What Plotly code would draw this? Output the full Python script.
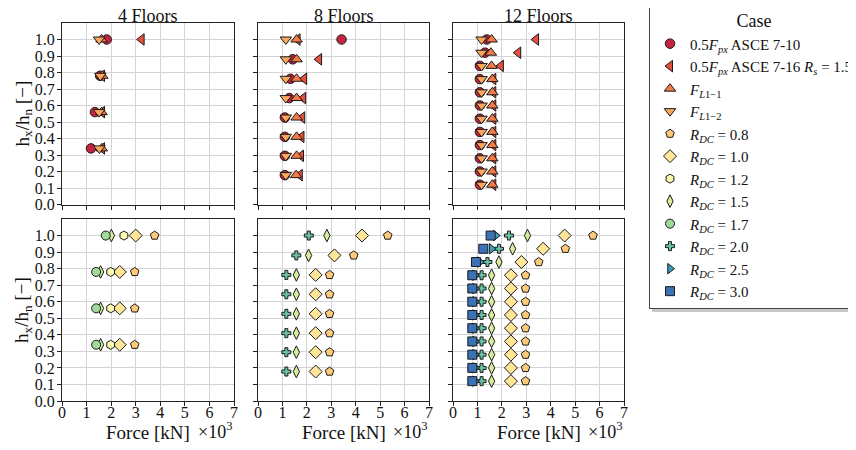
import plotly.graph_objects as go
from plotly.subplots import make_subplots

# ---------------- data ----------------
panel_titles = ["4 Floors", "8 Floors", "12 Floors"]
h_4 = [0.34, 0.56, 0.78, 1.0]
h_8 = [0.178, 0.295, 0.41, 0.527, 0.645, 0.762, 0.88, 1.0]
h_12 = [0.12, 0.20, 0.28, 0.36, 0.44, 0.52, 0.60, 0.68, 0.76, 0.84, 0.92, 1.0]

# Force [kN] x10^3 — top row (code-based cases)
asce710_4 = [1.18, 1.34, 1.55, 1.82]
asce710_8 = [1.10, 1.10, 1.10, 1.10, 1.28, 1.33, 1.42, 3.42]
asce710_12 = [1.10, 1.10, 1.10, 1.10, 1.10, 1.10, 1.10, 1.10, 1.10, 1.10, 1.31, 1.38]

asce716_4 = [1.63, 1.63, 1.63, 3.24]
asce716_8 = [1.71, 1.76, 1.78, 1.81, 1.85, 1.89, 2.50, 1.62]
asce716_12 = [1.65, 1.65, 1.65, 1.65, 1.65, 1.65, 1.65, 1.65, 1.65, 1.96, 2.67, 3.40]

fl11_4 = [1.62, 1.61, 1.64, 1.61]
fl11_8 = [1.56, 1.58, 1.58, 1.58, 1.58, 1.58, 1.58, 1.58]
fl11_12 = [1.61, 1.61, 1.61, 1.61, 1.61, 1.61, 1.61, 1.61, 1.61, 1.58, 1.55, 1.58]

fl12_4 = [1.52, 1.51, 1.56, 1.51]
fl12_8 = [1.14, 1.14, 1.14, 1.14, 1.14, 1.14, 1.14, 1.14]
fl12_12 = [1.17, 1.17, 1.17, 1.17, 1.17, 1.17, 1.17, 1.17, 1.17, 1.17, 1.17, 1.17]

# bottom row (R_DC cases)
rdc08_4 = [2.96, 2.96, 2.96, 3.77]
rdc08_8 = [2.93, 2.93, 2.93, 2.93, 2.93, 2.93, 3.92, 5.31]
rdc08_12 = [2.97, 2.97, 2.97, 2.97, 2.97, 2.97, 2.97, 2.97, 2.97, 3.51, 4.60, 5.73]

rdc10_4 = [2.35, 2.35, 2.35, 3.00]
rdc10_8 = [2.36, 2.36, 2.36, 2.36, 2.36, 2.36, 3.13, 4.26]
rdc10_12 = [2.37, 2.37, 2.37, 2.37, 2.37, 2.37, 2.37, 2.37, 2.37, 2.80, 3.69, 4.57]

rdc12_4 = [1.98, 1.98, 1.98, 2.52]

rdc15_4 = [1.57, 1.57, 1.57, 2.01]
rdc15_8 = [1.57, 1.57, 1.57, 1.57, 1.57, 1.57, 2.07, 2.82]
rdc15_12 = [1.58, 1.58, 1.58, 1.58, 1.58, 1.58, 1.58, 1.58, 1.58, 1.88, 2.44, 3.05]

rdc17_4 = [1.39, 1.39, 1.39, 1.78]

rdc20_8 = [1.16, 1.16, 1.16, 1.16, 1.16, 1.16, 1.57, 2.08]
rdc20_12 = [1.17, 1.17, 1.17, 1.17, 1.17, 1.17, 1.17, 1.17, 1.17, 1.41, 1.88, 2.29]

rdc25_12 = [0.90, 0.90, 0.90, 0.90, 0.90, 0.90, 0.90, 0.90, 0.90, 1.10, 1.58, 1.75]

rdc30_12 = [0.79, 0.79, 0.79, 0.79, 0.79, 0.79, 0.79, 0.79, 0.79, 0.94, 1.24, 1.54]

y_ticks = [0.0, 0.1, 0.2, 0.3, 0.4, 0.5, 0.6, 0.7, 0.8, 0.9, 1.0]
y_tick_labels = ["0.0", "0.1", "0.2", "0.3", "0.4", "0.5", "0.6", "0.7", "0.8", "0.9", "1.0"]
x_ticks = [0, 1, 2, 3, 4, 5, 6, 7]
x_tick_labels = ["0", "1", "2", "3", "4", "5", "6", "7"]

heights = [h_4, h_8, h_12]

# (legend name, symbol, colour, size, row, [values per panel])
series = [
    ("0.5<i>F<sub>px</sub></i> ASCE 7-10", "circle", "#c4243f", 9.5, 1, [asce710_4, asce710_8, asce710_12]),
    ("0.5<i>F<sub>px</sub></i> ASCE 7-16 <i>R<sub>s</sub></i> = 1.5", "triangle-left", "#e5503e", 10, 1, [asce716_4, asce716_8, asce716_12]),
    ("<i>F<sub>L</sub></i><sub>1−1</sub>", "triangle-up", "#f47a45", 10, 1, [fl11_4, fl11_8, fl11_12]),
    ("<i>F<sub>L</sub></i><sub>1−2</sub>", "triangle-down", "#fba75c", 10, 1, [fl12_4, fl12_8, fl12_12]),
    ("<i>R<sub>DC</sub></i> = 0.8", "pentagon", "#fdca78", 9, 2, [rdc08_4, rdc08_8, rdc08_12]),
    ("<i>R<sub>DC</sub></i> = 1.0", "diamond", "#fee597", 10, 2, [rdc10_4, rdc10_8, rdc10_12]),
    ("<i>R<sub>DC</sub></i> = 1.2", "hexagon", "#fbf8b0", 9, 2, [rdc12_4, None, None]),
    ("<i>R<sub>DC</sub></i> = 1.5", "diamond-tall", "#d6ee9b", 9, 2, [rdc15_4, rdc15_8, rdc15_12]),
    ("<i>R<sub>DC</sub></i> = 1.7", "circle", "#a2d89c", 9, 2, [rdc17_4, None, None]),
    ("<i>R<sub>DC</sub></i> = 2.0", "cross", "#67c3a3", 7.5, 2, [None, rdc20_8, rdc20_12]),
    ("<i>R<sub>DC</sub></i> = 2.5", "triangle-right", "#3c9eb9", 9, 2, [None, None, rdc25_12]),
    ("<i>R<sub>DC</sub></i> = 3.0", "square", "#3a72b5", 9, 2, [None, None, rdc30_12]),
]

FONT = "Liberation Serif"
fig = make_subplots(rows=2, cols=3)

for name, sym, col, size, row, vals in series:
    first = True
    for c in range(3):
        v = vals[c]
        if v is None:
            continue
        fig.add_trace(go.Scatter(
            x=v, y=heights[c], mode="markers", name=name, legendgroup=name,
            showlegend=first,
            marker=dict(symbol=sym, color=col, size=size,
                        line=dict(color="#1a1a1a", width=1)),
        ), row=row, col=c + 1)
        first = False

# layout geometry (page body adds an 8 px offset, compensated in margins)
W, H = 856, 450
L, R, T, B = 54, 240, 15, 57
pw, ph = W - L - R, H - T - B
xdom = [[0.0, 172 / pw], [196 / pw, 367 / pw], [391 / pw, 1.0]]
ydom_top = [(401 - 204.5) / ph, 1.0]
ydom_bot = [0.0, (401 - 219) / ph]

axis_common = dict(
    showline=True, mirror=True, linecolor="#222", linewidth=1.3,
    showgrid=True, gridcolor="#d4d4d4", gridwidth=1,
    ticks="outside", ticklen=4, tickcolor="#222", tickwidth=1,
    zeroline=False, automargin=False,
    tickfont=dict(family=FONT, size=16, color="#111"),
)

for i in range(6):
    r = i // 3
    c = i % 3
    xa = "xaxis" if i == 0 else f"xaxis{i + 1}"
    ya = "yaxis" if i == 0 else f"yaxis{i + 1}"
    fig.layout[xa].update(domain=xdom[c], range=[0, 7], tickvals=x_ticks,
                          ticktext=x_tick_labels, showticklabels=(r == 1),
                          ticklabelstandoff=-7, **axis_common)
    fig.layout[ya].update(domain=ydom_top if r == 0 else ydom_bot, range=[0, 1.1],
                          tickvals=y_ticks, ticktext=y_tick_labels,
                          showticklabels=(c == 0), ticklabelstandoff=-1, **axis_common)


def xdomref(k):
    return "x domain" if k == 1 else f"x{k} domain"


annotations = []
for c in range(3):
    annotations.append(dict(text=panel_titles[c], xref=xdomref(c + 1), x=0.5,
                            yref="paper", y=(401 - 15.5) / ph, xanchor="center", yanchor="middle",
                            showarrow=False, font=dict(family=FONT, size=18, color="#111")))
    annotations.append(dict(text="Force [kN]", xref=xdomref(c + 4), x=0.5,
                            yref="paper", y=(401 - 432) / ph, xanchor="center", yanchor="middle",
                            showarrow=False, font=dict(family=FONT, size=19, color="#111")))
    annotations.append(dict(text="×10<sup>3</sup>", xref=xdomref(c + 4), x=1.0,
                            yref="paper", y=(401 - 430) / ph, xanchor="right", yanchor="middle",
                            showarrow=False, font=dict(family=FONT, size=18, color="#111")))
for yc in [(401 - 113.5) / ph, (401 - 310) / ph]:
    annotations.append(dict(text="h<sub>x</sub>/h<sub>n</sub> [−]", xref="paper", x=(23 - 62) / pw,
                            yref="paper", y=yc, textangle=-90, xanchor="center", yanchor="middle",
                            showarrow=False, font=dict(family=FONT, size=19, color="#111")))

# soft legend shadow
shapes = [dict(type="rect", xref="paper", yref="paper", layer="below",
               x0=(652 - 62) / pw, x1=(870 - 62) / pw,
               y0=(401 - 312) / ph, y1=(401 - 12) / ph,
               fillcolor="#c8c8c8", line=dict(width=0))]

fig.update_layout(
    width=W, height=H,
    margin=dict(l=L, r=R, t=T, b=B, autoexpand=False),
    paper_bgcolor="white", plot_bgcolor="white",
    font=dict(family=FONT, size=15, color="#111"),
    annotations=annotations,
    shapes=shapes,
    legend=dict(
        x=(649 - 62) / pw, y=(401 - 309) / ph, xanchor="left", yanchor="bottom",
        bgcolor="white", bordercolor="#444", borderwidth=1,
        font=dict(family=FONT, size=15, color="#111"),
        title=dict(text="Case", side="top center", font=dict(family=FONT, size=18)),
        itemsizing="trace", tracegroupgap=0,
    ),
)

fig.write_html("out.html")
